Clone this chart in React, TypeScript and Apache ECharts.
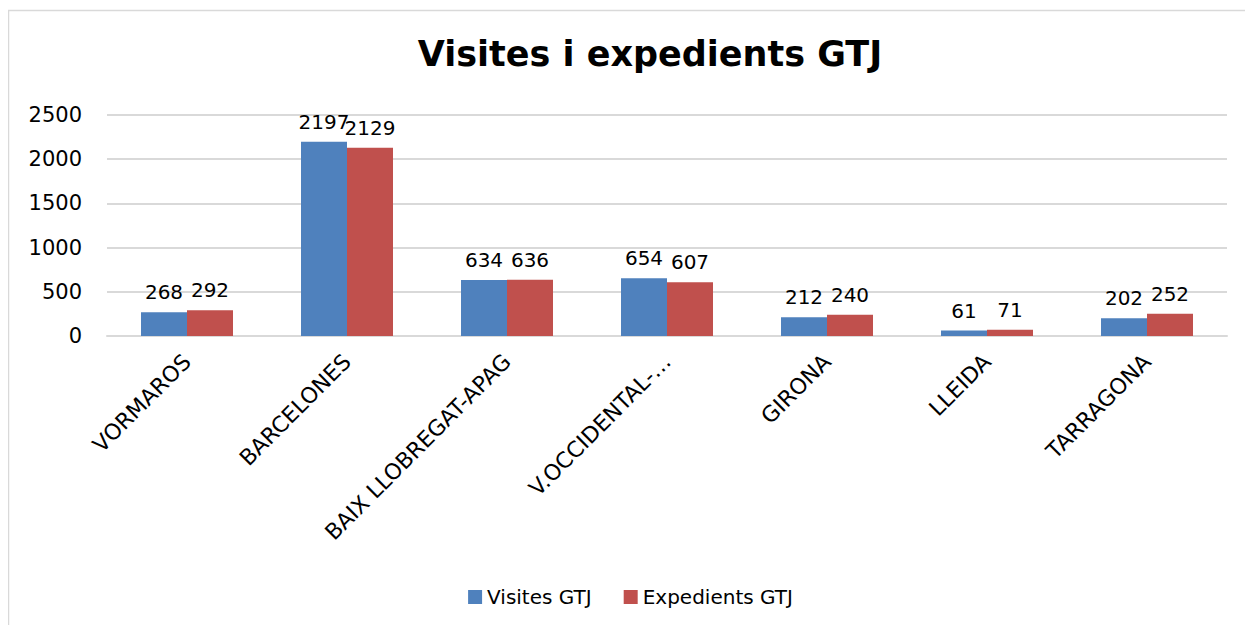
import React, { useEffect, useRef } from "react";
import * as echarts from "echarts";

const titleText = "Visites i expedients GTJ";
const categories = [
  "VORMAROS",
  "BARCELONES",
  "BAIX LLOBREGAT-APAG",
  "V.OCCIDENTAL-…",
  "GIRONA",
  "LLEIDA",
  "TARRAGONA",
];
const visites = [268, 2197, 634, 654, 212, 61, 202];
const expedients = [292, 2129, 636, 607, 240, 71, 252];
const seriesNames = ["Visites GTJ", "Expedients GTJ"];
const colors = ["#4F81BD", "#C0504D"];

const FONT = "'DejaVu Sans', sans-serif";

export default function App() {
  const ref = useRef<HTMLDivElement>(null);
  useEffect(() => {
    if (!ref.current) return;
    const chart = echarts.init(ref.current, null, { renderer: "svg" });
    const labelStyle = {
      show: true,
      position: "top" as const,
      distance: 10,
      color: "#000",
      fontSize: 20,
      fontFamily: FONT,
    };
    chart.setOption({
      animation: false,
      textStyle: { fontFamily: FONT },
      graphic: [
        {
          type: "rect",
          shape: { x: 0.5, y: 2.5, width: 1400, height: 800 },
          style: { fill: "none", stroke: "#d9d9d9", lineWidth: 1.5 },
          silent: true,
        },
      ],
      title: {
        text: titleText,
        left: 637,
        textAlign: "center",
        top: 23,
        textStyle: { fontSize: 35, fontWeight: "bold", color: "#000", fontFamily: FONT },
      },
      legend: {
        data: seriesNames,
        bottom: 13,
        left: "center",
        itemWidth: 14,
        itemHeight: 14,
        itemGap: 32,
        icon: "rect",
        textStyle: { fontSize: 20, color: "#000", fontFamily: FONT },
      },
      grid: { left: 99, right: 26, top: 107, bottom: 289, containLabel: false },
      xAxis: {
        type: "category",
        data: categories,
        axisLine: { lineStyle: { color: "#d9d9d9", width: 2 } },
        axisTick: { show: false },
        axisLabel: {
          rotate: 45,
          interval: 0,
          margin: 22,
          fontSize: 22,
          color: "#000",
          fontFamily: FONT,
        },
      },
      yAxis: {
        type: "value",
        min: 0,
        max: 2500,
        interval: 500,
        axisLine: { show: false },
        axisTick: { show: false },
        splitLine: { lineStyle: { color: "#d9d9d9", width: 2 } },
        axisLabel: {
          fontSize: 21,
          color: "#000",
          margin: 25,
          fontFamily: FONT,
          formatter: (v: number) => String(v),
        },
      },
      series: [
        {
          name: seriesNames[0],
          type: "bar",
          data: visites,
          barWidth: 46,
          barGap: "0%",
          itemStyle: { color: colors[0] },
          label: labelStyle,
        },
        {
          name: seriesNames[1],
          type: "bar",
          data: expedients,
          barWidth: 46,
          barGap: "0%",
          itemStyle: { color: colors[1] },
          label: labelStyle,
        },
      ],
    });
    return () => chart.dispose();
  }, []);
  return <div ref={ref} style={{ width: 1245, height: 617 }} />;
}
